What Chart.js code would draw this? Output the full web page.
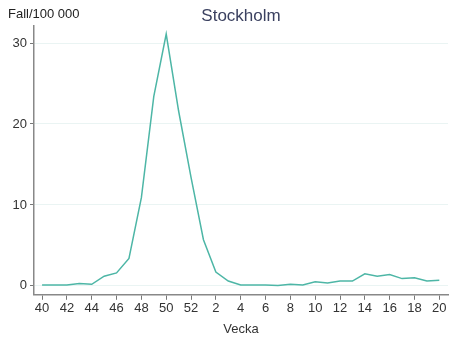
<!DOCTYPE html>
<html>
<head>
<meta charset="utf-8">
<script src="https://cdn.jsdelivr.net/npm/chart.js@4/dist/chart.umd.min.js"></script>
<style>
  html, body { margin: 0; padding: 0; background: #fff; }
  #wrap { position: relative; width: 449px; height: 341px; }
</style>
</head>
<body>
<div id="wrap"><canvas id="c" width="449" height="341"></canvas></div>
<script>
// Weekly cases per 100 000 inhabitants, Stockholm (week 40 to week 20)
const weeks = [40,41,42,43,44,45,46,47,48,49,50,51,52,1,2,3,4,5,6,7,8,9,10,11,12,13,14,15,16,17,18,19,20];
const casesPer100k = [0.1,0.1,0.1,0.3,0.2,1.2,1.6,3.4,10.9,23.4,31.1,21.6,13.4,5.7,1.7,0.6,0.1,0.1,0.1,0.05,0.2,0.1,0.5,0.35,0.6,0.6,1.5,1.2,1.4,0.9,1.0,0.6,0.7];
const yTicks = [0, 10, 20, 30];

const points = casesPer100k.map((v, i) => ({ x: i, y: v }));
const xTickIdx = weeks.map((w, i) => i).filter(i => i % 2 === 0);

const fontFamily = "'Liberation Sans', Arial, sans-serif";
const font = { family: fontFamily, size: 13 };

new Chart(document.getElementById('c'), {
  type: 'line',
  data: {
    datasets: [{
      data: points,
      borderColor: '#4db6a6',
      borderWidth: 1.5,
      pointRadius: 0,
      tension: 0,
      fill: false
    }]
  },
  options: {
    responsive: false,
    animation: false,
    layout: { padding: { top: 26, right: 1, left: 0, bottom: 0 } },
    plugins: {
      legend: { display: false },
      tooltip: { enabled: false },
      title: { display: false }
    },
    scales: {
      x: {
        type: 'linear',
        min: -0.65,
        max: 32.7,
        afterBuildTicks: s => { s.ticks = xTickIdx.map(v => ({ value: v })); },
        ticks: {
          callback: v => weeks[v],
          color: '#333',
          font: font,
          maxRotation: 0,
          autoSkip: false,
          padding: 1
        },
        grid: {
          display: true,
          drawOnChartArea: false,
          drawTicks: true,
          tickLength: 5,
          color: '#777'
        },
        border: { display: true, color: '#888', width: 1.5 },
        title: {
          display: true,
          text: 'Vecka',
          color: '#333',
          font: { family: fontFamily, size: 13 },
          padding: { top: 4, bottom: 4 }
        }
      },
      y: {
        type: 'linear',
        min: -1.1,
        max: 32.1,
        afterBuildTicks: s => { s.ticks = yTicks.map(v => ({ value: v })); },
        afterFit: s => { s.width = 34; },
        ticks: {
          color: '#333',
          font: font,
          padding: 3
        },
        grid: {
          color: '#eaf4f3',
          lineWidth: 1,
          drawTicks: true,
          tickLength: 4,
          tickColor: '#777'
        },
        border: { display: true, color: '#888', width: 1.5 }
      }
    }
  },
  plugins: [{
    id: 'headerText',
    afterDraw(chart) {
      const ctx = chart.ctx;
      const area = chart.chartArea;
      ctx.save();
      ctx.textBaseline = 'middle';
      ctx.fillStyle = '#222';
      ctx.font = "13px " + fontFamily;
      ctx.textAlign = 'left';
      ctx.fillText('Fall/100 000', 8, 14);
      ctx.fillStyle = '#3b4160';
      ctx.font = "17px " + fontFamily;
      ctx.textAlign = 'center';
      ctx.fillText('Stockholm', (area.left + area.right) / 2, 16);
      ctx.restore();
    }
  }]
});
</script>
</body>
</html>
